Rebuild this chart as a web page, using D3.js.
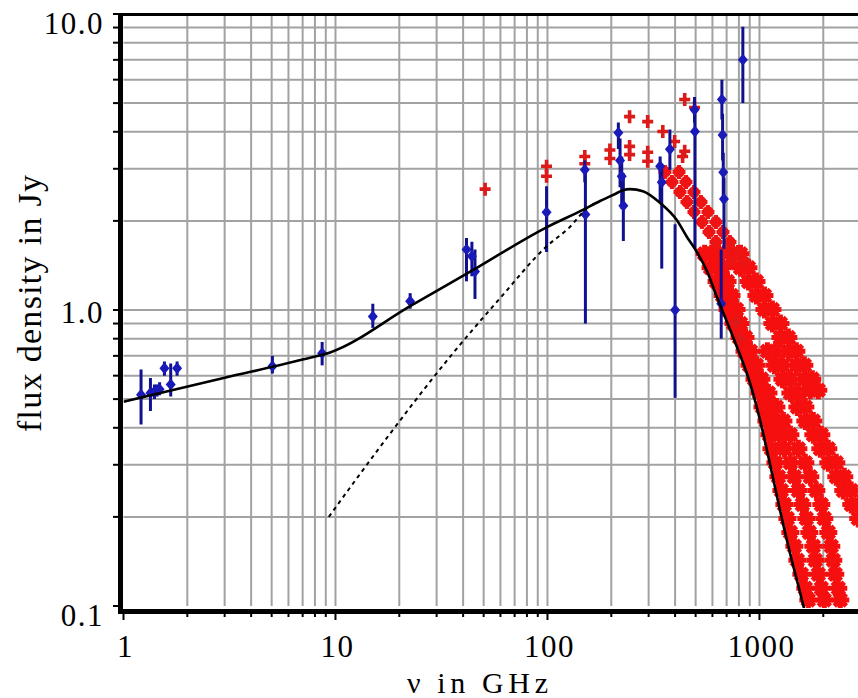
<!DOCTYPE html>
<html>
<head>
<meta charset="utf-8">
<script src="https://cdn.jsdelivr.net/npm/d3@7"></script>
<style>
  html, body { margin: 0; padding: 0; background: #fff; }
  svg { display: block; }
  text { font-family: "Liberation Serif", "Times New Roman", serif; fill: #000; }
</style>
</head>
<body>
<svg id="chart" width="858" height="698"></svg>
<script>
// Axis tick labels
const xTickValues = [1, 10, 100, 1000];
const xTickLabels = ["1", "10", "100", "1000"];
const yTickValues = [0.1, 1, 10];
const yTickLabels = ["0.1", "1.0", "10.0"];

// Model spectrum, total emission: [GHz, Jy]
const modelTotal = [
  [1.0, 0.49], [3, 0.59], [7, 0.68], [9.5, 0.72], [22.5, 1.03], [43, 1.344],
  [100, 1.91], [147, 2.18], [177, 2.335], [213, 2.485], [227, 2.54], [245, 2.56],
  [282, 2.52], [340, 2.30], [408, 2.01], [455, 1.765], [507, 1.57], [565, 1.354],
  [630, 1.106], [703, 0.911], [783, 0.750], [902, 0.567], [1006, 0.425],
  [1121, 0.302], [1249, 0.211], [1393, 0.151], [1552, 0.1115], [1639, 0.0955]
];
// Model spectrum, dust component alone
const modelDust = [
  [9.3, 0.20], [16, 0.34], [35, 0.70], [60, 1.10], [100, 1.65],
  [125, 1.88], [158, 2.24], [170, 2.30]
];

// Radio / mm measurements: [GHz, Jy, lower, upper]
const bluePoints = [
  [1.21, 0.517, 0.41, 0.63], [1.34, 0.524, 0.456, 0.589], [1.40, 0.53, 0.50, 0.56],
  [1.44, 0.535, 0.51, 0.56], [1.48, 0.54, 0.515, 0.57], [1.56, 0.636, 0.60, 0.67],
  [1.67, 0.56, 0.51, 0.66], [1.79, 0.636, 0.60, 0.67], [5.04, 0.646, 0.61, 0.70],
  [8.65, 0.714, 0.65, 0.78], [15.0, 0.95, 0.87, 1.05], [22.5, 1.07, 1.01, 1.14],
  [41.5, 1.60, 1.25, 1.75], [44, 1.52, 1.30, 1.70], [45.5, 1.35, 1.09, 1.60],
  [99, 2.14, 1.57, 2.62], [150, 2.98, 2.70, 3.20], [151, 2.10, 0.90, 3.00],
  [216, 3.97, 3.50, 4.30], [220, 3.20, 2.60, 3.80], [224, 2.83, 2.20, 3.30],
  [228, 2.25, 1.71, 2.90], [340, 3.06, 2.30, 3.30], [346, 2.70, 1.38, 3.00],
  [378, 3.49, 2.98, 4.07], [400, 1.00, 0.505, 1.95], [494, 4.75, 4.30, 5.24],
  [496, 4.01, 1.61, 4.60], [660, 1.05, 0.80, 1.60], [665, 5.14, 4.40, 6.00],
  [670, 3.90, 3.20, 4.60], [675, 2.92, 2.30, 3.40], [680, 2.37, 1.61, 2.80],
  [835, 7.00, 5.00, 9.06]
];

// Sub-mm measurements around the peak: [GHz, Jy]
const redPeak = [
  [50.8, 2.56], [99, 3.06], [99, 2.83], [150, 3.30], [150, 3.12], [197, 3.47],
  [197, 3.25], [244, 4.50], [244, 3.57], [244, 3.35], [297, 4.33], [297, 3.41],
  [297, 3.18], [350, 4.01], [398, 3.71], [444, 5.14], [444, 3.44], [494, 4.83],
  [434, 3.30], [775, 0.91], [805, 0.80]
];

// Descending sub-mm sequence just past the peak
const cloudFlux = [2.925, 2.706, 2.503, 2.316, 2.144, 1.983, 1.834, 1.697, 1.570, 1.453];
const cloud1Freq = [358.3, 386.6, 421.7, 455, 491, 535.5, 578, 623.5, 680, 733.8];
const cloud2Freq = [417.3, 450.2, 491, 529.7, 571.5, 623.5, 672.8, 725.8, 791.9, 854];

// Far-IR tail sequences: frequencies [GHz] with matching fluxes [Jy]
const tailFlux = [1.548, 1.389, 1.247, 1.119, 1.004, 0.901, 0.808, 0.725, 0.651,
  0.584, 0.524, 0.470, 0.422, 0.379, 0.340, 0.305, 0.2735, 0.2454, 0.2202,
  0.1976, 0.1773, 0.1591, 0.1428, 0.1281, 0.1149, 0.1047];
const tailAFreq = [551, 588, 627.5, 669.6, 706.9, 754.4, 805.1, 850, 897.3, 947.3,
  1000, 1033, 1078.8, 1114.4, 1138.8, 1189.3, 1228.6, 1269.2, 1311.1, 1354.4,
  1399.2, 1461.1, 1509.4, 1576.3, 1646.1, 1700.5];
const tailBFreq = [594.4, 627.5, 662.4, 706.9, 738.2, 787.8, 831.8, 878.1, 927,
  989.2, 1044.3, 1114.4, 1176.4, 1242, 1311.1, 1399.2, 1461.1, 1525.9, 1593.4,
  1664, 1719, 1795.2, 1834.5, 1895.1, 1957.7, 2022.4];
const tailCFreq = [641.2, 669.6, 706.9, 738.2, 779.3, 813.8, 859.2, 907.1, 968,
  1021.9, 1102.4, 1202.3, 1297, 1399.2, 1525.9, 1646.1, 1737.8, 1854.5, 1957.7,
  2022.4, 2112, 2181.8, 2229.6, 2278.4, 2353.7, 2405.3];

const upperFlux = [1.548, 1.389, 1.247, 1.119, 1.004, 0.901, 0.808, 0.725, 0.651, 0.584, 0.536];
const upper1Freq = [746.3, 813.8, 887.6, 968, 1055.7, 1151.2, 1255.5, 1369.2, 1493.1, 1628.3, 1737.8];
const upper2Freq = [813.8, 887.6, 968, 1055.7, 1151.2, 1255.5, 1369.2, 1493.1, 1628.3, 1775.8, 1895.1];

const side1Flux = [0.725, 0.651, 0.584, 0.524, 0.470, 0.422, 0.379, 0.340, 0.305, 0.2735, 0.2454, 0.2202, 0.1976];
const side1Freq = [1090.5, 1176.4, 1283, 1399.2, 1509.4, 1646.1, 1795.2, 1936.6, 2112, 2303.3, 2485, 2710, 2924];
const side2Flux = [0.725, 0.651, 0.584, 0.524, 0.470, 0.422, 0.379, 0.340, 0.305, 0.2735, 0.2454, 0.2202];
const side2Freq = [1189.3, 1283, 1399.2, 1525.9, 1646.1, 1795.2, 1957.7, 2112, 2303.3, 2512, 2710, 2956];

// ---- layout ----
const svg = d3.select("#chart");
const W = 858, H = 698;
const plotLeft = 123.5, plotTop = 14, plotBottom = 606;

const x = d3.scaleLog().domain([1, 3000]).range([plotLeft, 860.6]);
const y = d3.scaleLog().domain([0.1, 10]).range([plotBottom, plotTop]);

svg.append("rect").attr("width", W).attr("height", H).attr("fill", "#fff");

svg.append("defs").append("clipPath").attr("id", "plotClip")
  .append("rect").attr("x", plotLeft).attr("y", plotTop)
  .attr("width", W - plotLeft).attr("height", plotBottom - plotTop + 2);

// grid
const grid = svg.append("g").attr("stroke", "#a2a2a2").attr("stroke-width", 2);
const xGrid = x.ticks().filter(v => v > 1 && v < 3000);
const yGrid = y.ticks().filter(v => v > 0.1 && v < 10);
grid.selectAll("line.vx").data(xGrid).join("line")
  .attr("x1", d => x(d)).attr("x2", d => x(d))
  .attr("y1", plotTop).attr("y2", plotBottom);
grid.selectAll("line.hy").data(yGrid).join("line")
  .attr("x1", plotLeft).attr("x2", W)
  .attr("y1", d => y(d)).attr("y2", d => y(d));

const plot = svg.append("g").attr("clip-path", "url(#plotClip)");
const at = d => `translate(${x(d[0])},${y(d[1])})`;

// far-IR tail: dense crosses that merge into bands
const tailAll = [
  ...d3.zip(tailAFreq, tailFlux),
  ...d3.zip(tailBFreq, tailFlux),
  ...d3.zip(tailCFreq, tailFlux),
  ...d3.zip(upper1Freq, upperFlux),
  ...d3.zip(upper2Freq, upperFlux),
  ...d3.zip(side1Freq, side1Flux),
  ...d3.zip(side2Freq, side2Flux)
];
plot.append("g").selectAll("path").data(tailAll).join("path")
  .attr("transform", at)
  .attr("d", "M-9,0H9M0,-9V9M-6,-6L6,6M-6,6L6,-6")
  .attr("stroke", "#f50f0f").attr("stroke-width", 5).attr("fill", "none");

// descending sequence past the peak
const cloudAll = [...d3.zip(cloud1Freq, cloudFlux), ...d3.zip(cloud2Freq, cloudFlux)];
plot.append("g").selectAll("path").data(cloudAll).join("path")
  .attr("transform", at)
  .attr("d", "M-6.5,0H6.5M0,-7V7M-4,-4L4,4M-4,4L4,-4")
  .attr("stroke", "#ee1414").attr("stroke-width", 4).attr("fill", "none");

// peak-region measurements
plot.append("g").selectAll("path").data(redPeak).join("path")
  .attr("transform", at)
  .attr("d", "M-5.5,0H5.5M0,-6.5V6.5")
  .attr("stroke", "#dc1a1a").attr("stroke-width", 3.6).attr("fill", "none");

// blue measurements with error bars
const blue = plot.append("g");
blue.selectAll("line").data(bluePoints).join("line")
  .attr("x1", d => x(d[0])).attr("x2", d => x(d[0]))
  .attr("y1", d => y(d[3])).attr("y2", d => y(d[2]))
  .attr("stroke", "#11118f").attr("stroke-width", 3);
blue.selectAll("path").data(bluePoints).join("path")
  .attr("transform", at)
  .attr("d", "M-5,0L0,-6L5,0L0,6Z")
  .attr("fill", "#1a1ab8");

// model curves
const line = d3.line().x(d => x(d[0])).y(d => y(d[1])).curve(d3.curveMonotoneX);
plot.append("path").datum(modelDust).attr("d", line)
  .attr("fill", "none").attr("stroke", "#000").attr("stroke-width", 2)
  .attr("stroke-dasharray", "4,4");
plot.append("path").datum(modelTotal).attr("d", line)
  .attr("fill", "none").attr("stroke", "#000").attr("stroke-width", 2.6);

// axes frame
const axes = svg.append("g").attr("stroke", "#000");
axes.append("line").attr("x1", 120.5).attr("x2", 120.5).attr("y1", 13).attr("y2", 614).attr("stroke-width", 5);
axes.append("line").attr("x1", 118).attr("x2", W).attr("y1", 611.5).attr("y2", 611.5).attr("stroke-width", 5);
axes.append("line").attr("x1", 118).attr("x2", W).attr("y1", 14.5).attr("y2", 14.5).attr("stroke-width", 3);

// tick marks
axes.selectAll("line.ty").data(y.ticks()).join("line")
  .attr("x1", 113).attr("x2", 118)
  .attr("y1", d => y(d)).attr("y2", d => y(d)).attr("stroke-width", 2);
axes.selectAll("line.tx").data(x.ticks().filter(v => v <= 2900)).join("line")
  .attr("x1", d => x(d)).attr("x2", d => x(d))
  .attr("y1", 614).attr("y2", d => xTickValues.includes(d) ? 620 : 617)
  .attr("stroke-width", 2);

// tick labels
svg.append("g").selectAll("text").data(xTickValues).join("text")
  .attr("x", d => x(d) + 2).attr("y", 657)
  .attr("text-anchor", "middle").attr("font-size", 31)
  .attr("letter-spacing", 1.5)
  .text((d, i) => xTickLabels[i]);
svg.append("g").selectAll("text").data(yTickValues).join("text")
  .attr("x", 104).attr("y", d => y(d) + (d === 1 ? 13 : 20))
  .attr("text-anchor", "end").attr("font-size", 31)
  .attr("letter-spacing", 1.5)
  .text((d, i) => yTickLabels[i]);

// axis titles
svg.append("text")
  .attr("transform", "translate(41,303.5) rotate(-90)")
  .attr("text-anchor", "middle").attr("font-size", 34)
  .attr("textLength", 257).attr("lengthAdjust", "spacing")
  .text("flux density in Jy");
svg.append("text")
  .attr("x", 477.5).attr("y", 693)
  .attr("text-anchor", "middle").attr("font-size", 30)
  .attr("textLength", 141).attr("lengthAdjust", "spacing")
  .text("ν in GHz");
</script>
</body>
</html>
